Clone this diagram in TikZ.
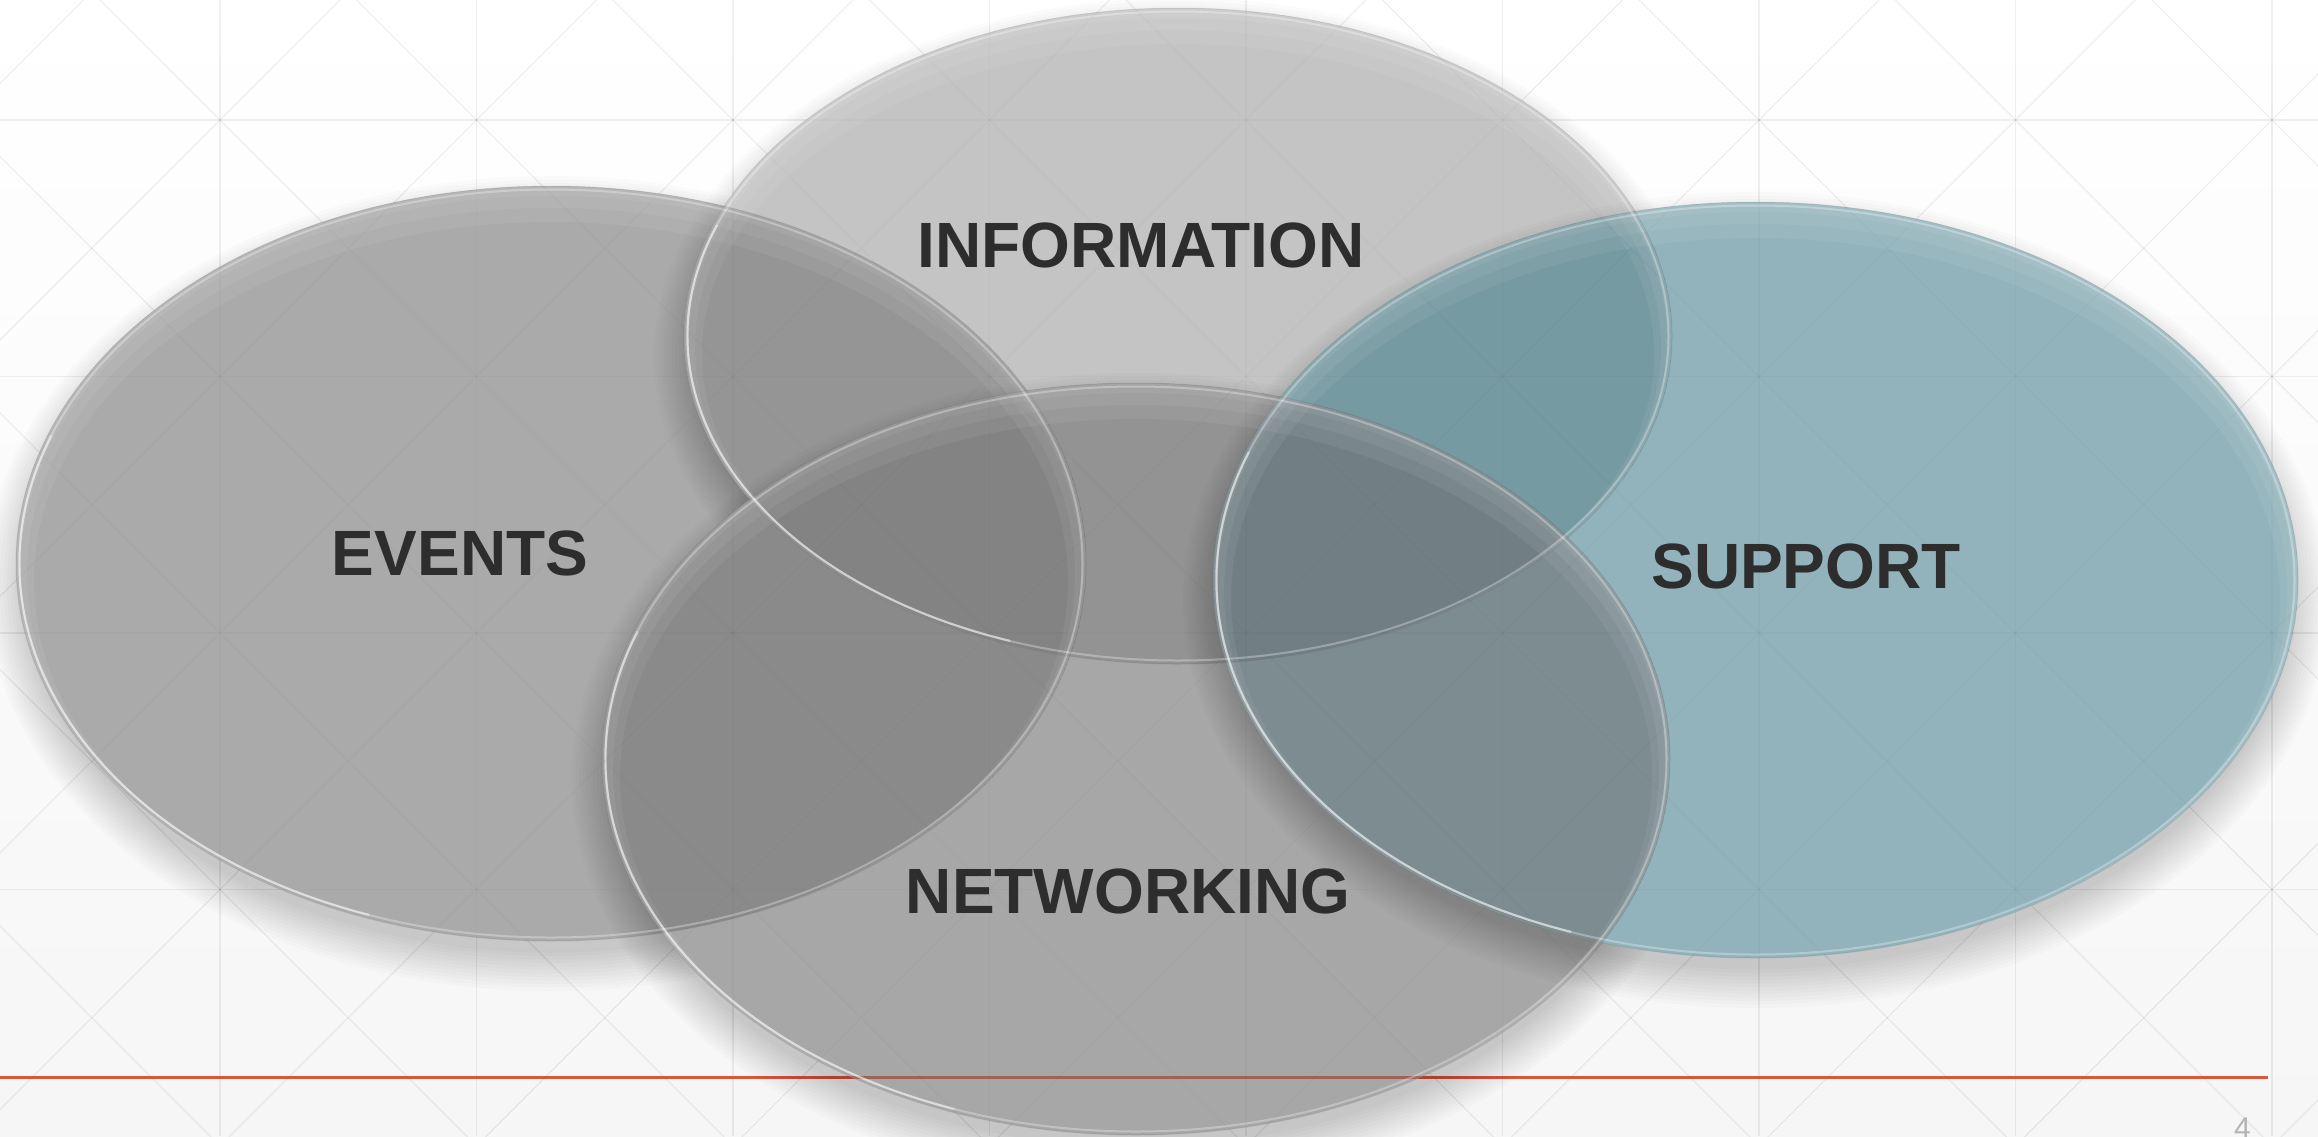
\documentclass[tikz,border=0pt]{standalone}
\usepackage{fontspec}
\setmainfont{Liberation Sans}
\definecolor{bgb}{HTML}{F6F6F6}
\definecolor{redl}{HTML}{D9583B}
\definecolor{redin}{RGB}{158,98,86}
\definecolor{cE}{HTML}{AAAAAA}
\definecolor{cI}{HTML}{C4C4C4}
\definecolor{cN}{HTML}{A7A7A7}
\definecolor{cS}{HTML}{92B3BC}
\definecolor{cEI}{HTML}{959595}
\definecolor{cEN}{HTML}{8A8A8A}
\definecolor{cIN}{HTML}{939393}
\definecolor{cEIN}{HTML}{838383}
\definecolor{cIS}{HTML}{769AA1}
\definecolor{cNS}{HTML}{7D8C91}
\definecolor{cINS}{HTML}{717F84}
\definecolor{txt}{HTML}{2D2D2D}
\definecolor{pgnum}{HTML}{B4B4B4}
\def\Ep{(551,563.5) ellipse [x radius=535, y radius=377.5]}
\def\Ip{(1178,336) ellipse [x radius=494, y radius=328]}
\def\Np{(1136,759) ellipse [x radius=534, y radius=376]}
\def\Sp{(1755.5,580) ellipse [x radius=542.5, y radius=378]}
\newcommand\dropshadow[4]{%
  \foreach \k in {1,...,12}{\fill[black,opacity=0.016] (#1,#2+20) ellipse [x radius=#3-12+3.5*\k, y radius=#4-12+3.5*\k];}}
\newcommand\gridlines[1]{%
  \begin{scope}[gridl, opacity=#1]
  \clip (0,0) rectangle (2318,1136);
  \foreach \gx in {-36.5,220,476.5,733,989.5,1246,1502.5,1759,2015.5,2272}
    \draw (\gx,0) -- (\gx,1136);
  \foreach \gy in {120,376.5,633,889.5}
    \draw (0,\gy) -- (2318,\gy);
  \foreach \k in {-6,...,9}
    \draw ({100+256.5*\k-200},-200) -- ({100+256.5*\k+1400},1400);
  \foreach \k in {-1,...,14}
    \draw ({340+256.5*\k+200},-200) -- ({340+256.5*\k-1400},1400);
  \end{scope}}
\begin{document}
\begin{tikzpicture}[x=1pt,y=-1pt,
  vlabel/.style={font=\fontsize{64}{70}\selectfont\bfseries, text=txt, inner sep=0pt, anchor=base},
  gridl/.style={black, line width=1.2},
  redline/.style={line width=3}]
\useasboundingbox (0,0) rectangle (2318,1136);
\shade[top color=white, bottom color=bgb] (0,0) rectangle (2318,1136);
\gridlines{0.045}
% footer line
\coordinate (rl0) at (0,1077.5);
\coordinate (rl1) at (2268,1077.5);
\draw[redline, redl] (rl0) -- (rl1);
% EVENTS
\dropshadow{551}{563.5}{535}{377.5}
\fill[cE] \Ep;
% INFORMATION
\dropshadow{1178}{336}{494}{328}
\fill[cI] \Ip;
\begin{scope}\clip \Ep; \fill[cEI] \Ip; \end{scope}
% NETWORKING
\dropshadow{1136}{759}{534}{376}
\fill[cN] \Np;
\begin{scope}\clip \Ep; \fill[cEN] \Np; \end{scope}
\begin{scope}\clip \Ip; \fill[cIN] \Np; \end{scope}
\begin{scope}\clip \Ep; \clip \Ip; \fill[cEIN] \Np; \end{scope}
\begin{scope}\clip \Np; \draw[redline, redin] (rl0) -- (rl1); \end{scope}
% SUPPORT
\dropshadow{1755.5}{580}{542.5}{378}
\fill[cS] \Sp;
\begin{scope}\clip \Ip; \fill[cIS] \Sp; \end{scope}
\begin{scope}\clip \Np; \fill[cNS] \Sp; \end{scope}
\begin{scope}\clip \Ip; \clip \Np; \fill[cINS] \Sp; \end{scope}
% glass rims and edge highlights
\foreach \cx/\cy/\rx/\ry in {551/563.5/535/377.5, 1178/336/494/328, 1136/759/534/376, 1755.5/580/542.5/378}{
  \begin{scope}
    \clip (\cx,\cy) ellipse [x radius=\rx, y radius=\ry];
    \foreach \d in {10,22,36}{
      \fill[white, opacity=0.06, even odd rule] (\cx,\cy) ellipse [x radius=\rx, y radius=\ry]
        (\cx,\cy+\d/2) ellipse [x radius=\rx-\d/2, y radius=\ry-\d/2];}
  \end{scope}
  \draw[black, opacity=0.08, line width=1] (\cx,\cy) ellipse [x radius=\rx, y radius=\ry];
  \draw[white, opacity=0.3, line width=2] (\cx,\cy) ellipse [x radius=\rx-3.5, y radius=\ry-3.5];
  \draw[white, opacity=0.45, line width=2.2] (\cx,\cy) ++(110:{\rx-3.5} and {\ry-3.5})
    arc [start angle=110, end angle=200, x radius=\rx-3.5, y radius=\ry-3.5];
}
\gridlines{0.02}
% labels
\node[vlabel] (info) at (1141,267) {INFORMATION};
\node[vlabel] (events) at (460,575) {EVENTS};
\node[vlabel] (net) at (1128,913) {NETWORKING};
\node[vlabel] (supp) at (1806,588) {SUPPORT};
\node[font=\fontsize{30}{30}\selectfont, text=pgnum, anchor=base west, inner sep=0pt] (pg) at (2234,1138) {4};
\end{tikzpicture}
\end{document}
